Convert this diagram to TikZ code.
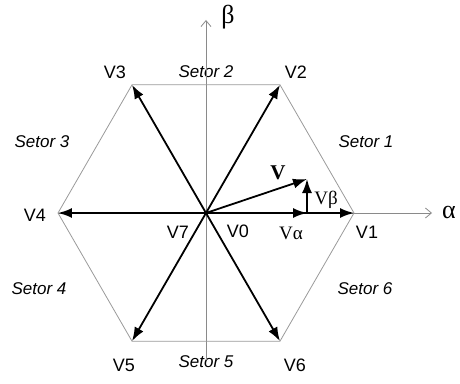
\documentclass[tikz,border=0pt]{standalone}
\usepackage{fontspec}
\setmainfont{Liberation Sans}
\newfontfamily\svmSerif{Liberation Serif}
\usetikzlibrary{arrows.meta, positioning}
\definecolor{svmAxis}{HTML}{8A8A8A}
\definecolor{svmHex}{HTML}{9A9A9A}

\begin{document}
\begin{tikzpicture}[x=1pt, y=1pt,
  axis/.style={draw=svmAxis, line width=0.8pt, -{Straight Barb[length=6pt,width=10pt]}},
  hex/.style={draw=svmHex, line width=0.8pt},
  vec/.style={draw=black, line width=1.8pt, -{Latex[length=14pt,width=10pt]}},
  lab/.style={font=\fontsize{18}{20}\selectfont, inner sep=0pt},
  sec/.style={font=\fontsize{17}{20}\selectfont\itshape, inner sep=0pt},
  comp/.style={font=\fontsize{19}{20}\selectfont\svmSerif, inner sep=0pt},
  greek/.style={font=\fontsize{26}{28}\selectfont\svmSerif, inner sep=0pt}
]
  \useasboundingbox (-206,-170) rectangle (254,213);
  \coordinate (o) at (0,0);
  \foreach \i in {1,...,6}
    \coordinate (p\i) at ({(\i-1)*60}:148);
  \coordinate (betabot) at (0,-147);
  \coordinate (betatop) at (0,193);
  \coordinate (alphatop) at (226,0);
  \coordinate (va) at (101,0);
  \coordinate (vv) at (101,34);

  \node[lab] (l1) at (161,-19) {V1};
  \node[lab] (l2) at (90,141) {V2};
  \node[lab] (l3) at (-91,141) {V3};
  \node[lab] (l4) at (-171,-2) {V4};
  \node[lab] (l5) at (-82,-152) {V5};
  \node[lab] (l6) at (89,-152) {V6};
  \node[lab] (l7) at (-28,-19) {V7};
  \node[lab] (l0) at (32,-18) {V0};

  \node[sec] (s1) at (160,71) {Setor 1};
  \node[sec] (s2) at (0,141) {Setor 2};
  \node[sec] (s3) at (-164,71) {Setor 3};
  \node[sec] (s4) at (-167,-76) {Setor 4};
  \node[sec] (s5) at (0,-149) {Setor 5};
  \node[sec] (s6) at (159,-76) {Setor 6};

  \node[greek] (beta) at (22,196) {β};
  \node[greek] (alpha) at (243,1) {α};
  \node[comp, font=\fontsize{21}{22}\selectfont\svmSerif\bfseries] (lv) at (72,40) {V};
  \node[comp] (lva) at (85,-20) {Vα};
  \node[comp] (lvb) at (120,13) {Vβ};

  \draw[axis] (betabot) -- (betatop);
  \draw[axis] (p4) -- (alphatop);
  \draw[hex] (p1) -- (p2) -- (p3) -- (p4) -- (p5) -- (p6) -- cycle;

  \foreach \i in {1,...,6}
    \draw[vec] (o) -- (p\i);
  \draw[vec] (o) -- (va);
  \draw[vec] (o) -- (vv);
  \draw[vec] (va) -- (vv);
\end{tikzpicture}
\end{document}
